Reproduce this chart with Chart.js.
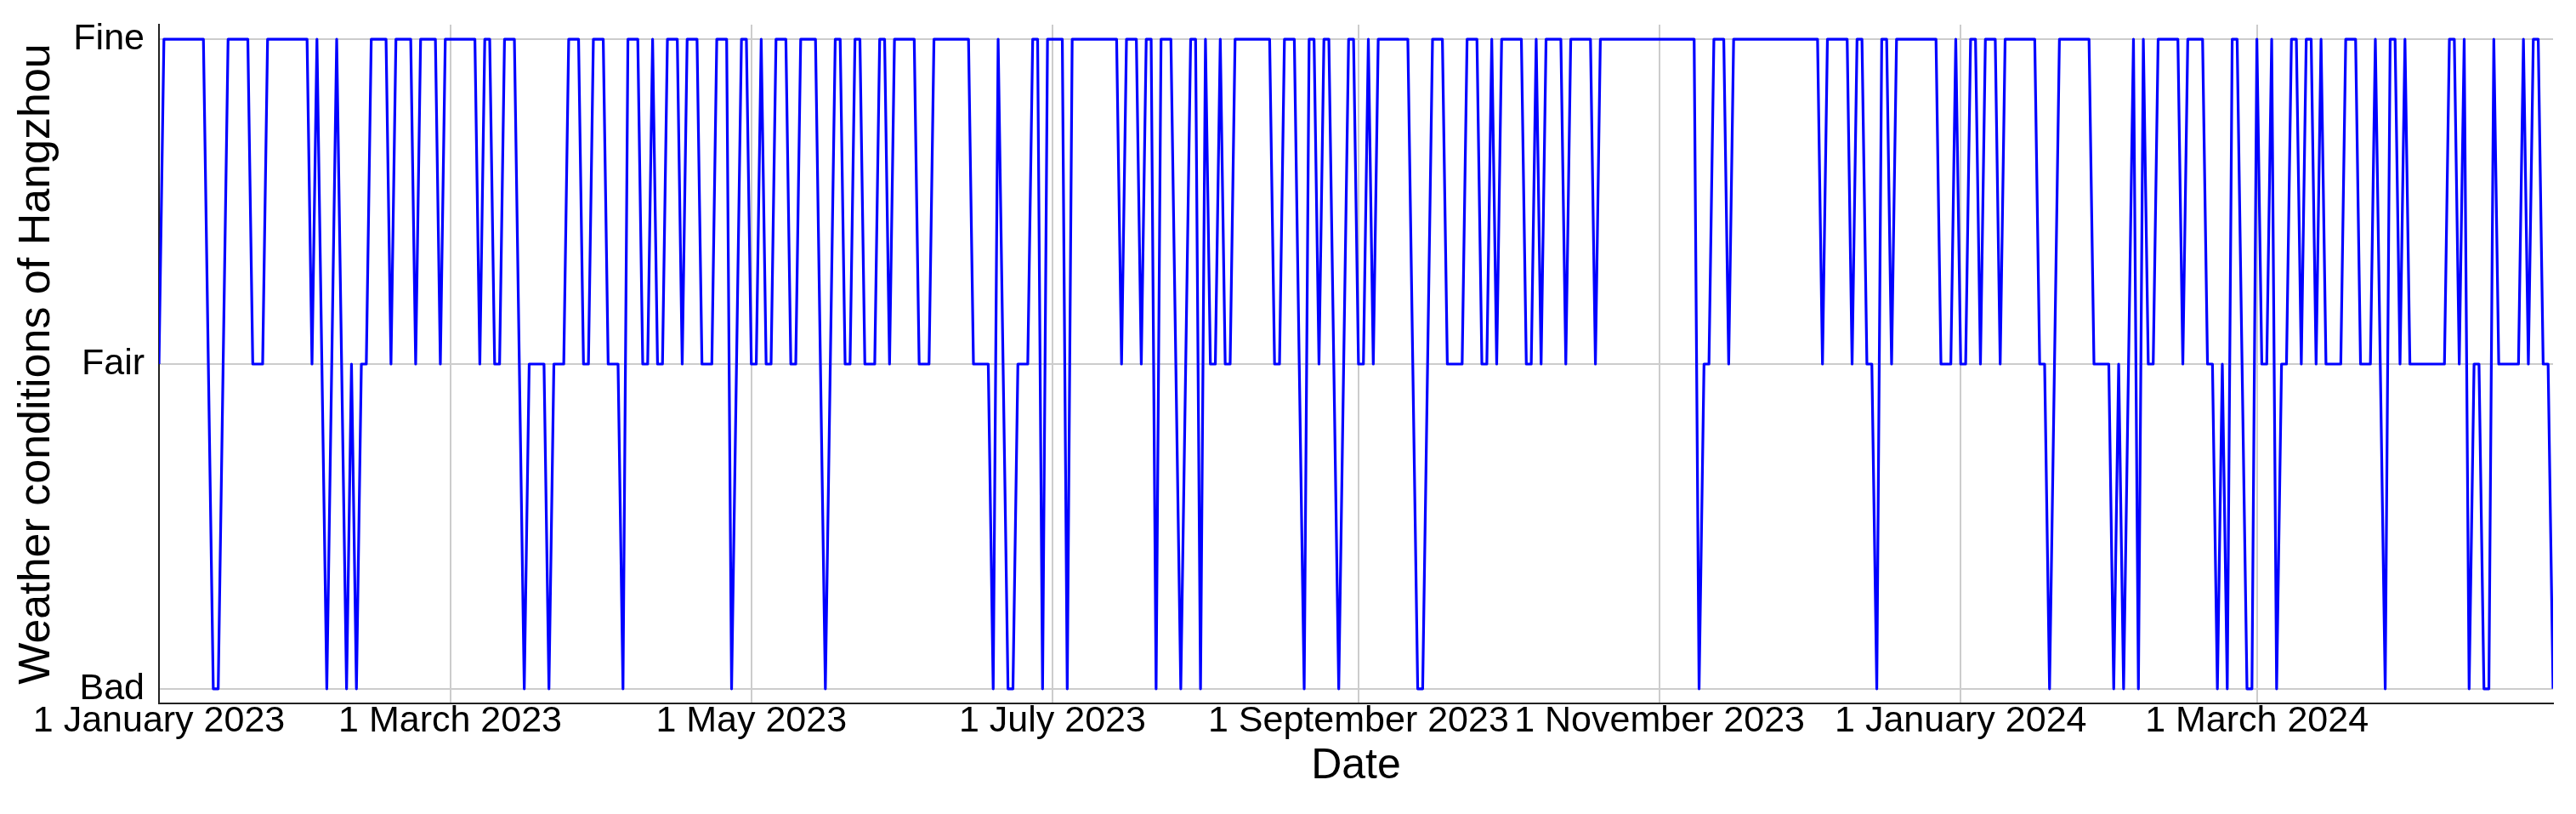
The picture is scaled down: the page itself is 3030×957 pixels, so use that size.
<!DOCTYPE html>
<html>
<head>
<meta charset="utf-8">
<script src="https://cdn.jsdelivr.net/npm/chart.js@4.4.1/dist/chart.umd.min.js"></script>
<style>
  html, body { margin: 0; padding: 0; background: #fff; }
</style>
</head>
<body>
<canvas id="chart" width="3030" height="957"></canvas>
<script>
const startDate = '2023-01-01';
const tickDates = ['2023-01-01', '2023-03-01', '2023-05-01', '2023-07-01', '2023-09-01', '2023-11-01', '2024-01-01', '2024-03-01'];
const tickLabels = ['1 January 2023', '1 March 2023', '1 May 2023', '1 July 2023', '1 September 2023', '1 November 2023', '1 January 2024', '1 March 2024'];
const levelLabels = ['Bad', 'Fair', 'Fine'];

// 0 = Bad, 1 = Fair, 2 = Fine, one value per day (1 Jan 2023 - 30 Apr 2024)
const weather = [
    1,2,2,2,2,2,2,2,2,2,1,0,0,1,2,2,2,2,2,1,1,1,2,2,2,2,2,2,2,2,2,1,2,1,0,1,2,1,0,1,
    0,1,1,2,2,2,2,1,2,2,2,2,1,2,2,2,2,1,2,2,2,2,2,2,2,1,2,2,1,1,2,2,2,1,0,1,1,1,1,0,1,
    1,1,2,2,2,1,1,2,2,2,1,1,1,0,2,2,2,1,1,2,1,1,2,2,2,1,2,2,2,1,1,1,2,2,2,0,1,2,2,1,
    1,2,1,1,2,2,2,1,1,2,2,2,2,1,0,1,2,2,1,1,2,2,1,1,1,2,2,1,2,2,2,2,2,1,1,1,2,
    2,2,2,2,2,2,2,1,1,1,1,0,2,1,0,0,1,1,1,2,2,0,2,2,2,2,0,2,2,2,2,2,2,2,2,2,2,1,2,2,2,1,2,2,0,
    2,2,2,1,0,1,2,2,0,2,1,1,2,1,1,2,2,2,2,2,2,2,2,1,1,2,2,2,1,0,2,2,1,2,2,1,0,1,2,2,
    1,1,2,1,2,2,2,2,2,2,2,1,0,0,1,2,2,2,1,1,1,1,2,2,2,1,1,2,1,2,2,2,2,2,1,1,2,1,2,2,2,2,
    1,2,2,2,2,2,1,2,2,2,2,2,2,2,2,2,2,2,2,2,2,2,2,2,2,2,2,0,1,1,2,2,2,1,
    2,2,2,2,2,2,2,2,2,2,2,2,2,2,2,2,2,2,1,2,2,2,2,2,1,2,2,1,1,0,2,2,1,2,2,2,2,2,2,2,2,2,1,1,1,2,1,
    1,2,2,1,2,2,2,1,2,2,2,2,2,2,2,1,1,0,1,2,2,2,2,2,2,2,1,1,1,1,0,1,0,1,2,0,2,1,1,2,
    2,2,2,2,1,2,2,2,2,1,1,0,1,0,2,2,1,0,0,2,1,1,2,0,1,1,2,2,1,2,2,1,2,1,1,1,1,2,2,2,1,
    1,1,2,1,0,2,2,1,2,1,1,1,1,1,1,1,1,2,2,1,2,0,1,1,0,0,2,1,1,1,1,1,2,1,2,2,1,1,0
];

const dayMs = 86400000;
function dayIndex(s) {
    return (Date.parse(s) - Date.parse(startDate)) / dayMs;
}
const tickPositions = tickDates.map(dayIndex);

const fontFamily = "'Liberation Sans', Arial, sans-serif";
const textColor = '#000';

// y tick labels, right aligned against the left spine
const yTickLabels = {
    id: 'yTickLabels',
    afterDraw(chart) {
        const { ctx, chartArea, scales } = chart;
        ctx.save();
        ctx.font = '43px ' + fontFamily;
        ctx.fillStyle = textColor;
        ctx.textAlign = 'right';
        ctx.textBaseline = 'middle';
        levelLabels.forEach((label, v) => {
            ctx.fillText(label, chartArea.left - 17, scales.y.getPixelForValue(v));
        });
        ctx.restore();
    }
};

const ctx = document.getElementById('chart').getContext('2d');
const chart = new Chart(ctx, {
    type: 'line',
    data: {
        datasets: [{
            data: weather.map((v, i) => ({ x: i, y: v })),
            borderColor: '#0000ff',
            borderWidth: 3.2,
            borderJoinStyle: 'round',
            pointRadius: 0,
            tension: 0,
            fill: false
        }]
    },
    options: {
        responsive: false,
        animation: false,
        devicePixelRatio: 1,
        layout: { padding: { top: 29, right: 27, left: 0, bottom: 0 } },
        plugins: {
            legend: { display: false },
            tooltip: { enabled: false }
        },
        scales: {
            x: {
                type: 'linear',
                min: 0,
                max: weather.length - 1,
                afterBuildTicks: axis => { axis.ticks = tickPositions.map(v => ({ value: v })); },
                afterFit: axis => { axis.height = 130; axis.paddingLeft = 0; axis.paddingRight = 0; },
                ticks: {
                    autoSkip: false,
                    maxRotation: 0,
                    minRotation: 0,
                    padding: 0,
                    color: textColor,
                    font: { family: fontFamily, size: 43, lineHeight: 1 },
                    callback: (v, i) => tickLabels[i]
                },
                grid: { color: '#cccccc', lineWidth: 2, drawTicks: false },
                border: { color: '#222', width: 2 },
                title: {
                    display: true,
                    text: 'Date',
                    color: textColor,
                    font: { family: fontFamily, size: 50 },
                    padding: { top: 0, bottom: 26 }
                }
            },
            y: {
                min: -0.045,
                max: 2.045,
                afterBuildTicks: axis => { axis.ticks = [0, 1, 2].map(v => ({ value: v })); },
                afterFit: axis => { axis.width = 187; axis.paddingTop = 0; axis.paddingBottom = 0; },
                ticks: { display: false },
                grid: { color: '#cccccc', lineWidth: 2, drawTicks: false },
                border: { color: '#222', width: 2 },
                title: {
                    display: true,
                    text: 'Weather conditions of Hangzhou',
                    color: textColor,
                    font: { family: fontFamily, size: 52 },
                    padding: { top: 12, bottom: 0 }
                }
            }
        }
    },
    plugins: [yTickLabels]
});
</script>
</body>
</html>
